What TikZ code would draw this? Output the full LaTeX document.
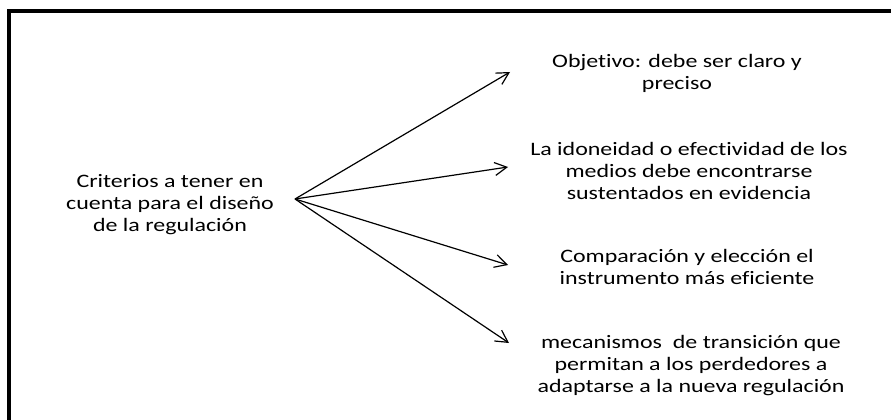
\documentclass[tikz,border=0pt]{standalone}
\usepackage{fontspec}
\setmainfont[FakeStretch=1.26,Ligatures=NoCommon]{Carlito}
\usetikzlibrary{arrows.meta}
\begin{document}
\begin{tikzpicture}[x=1pt,y=-1pt,
  lbl/.style={align=center,inner sep=0pt,font=\fontsize{19}{22}\selectfont},
  conn/.style={line width=1.2pt,-{Straight Barb[length=12pt,width=13pt,line width=1.2pt]}}]
\useasboundingbox (0,0) rectangle (891,420);
\clip (0,0) rectangle (891,420);
\draw[line width=4pt] (9,430) -- (9,11.5) -- (900,11.5);
\node[lbl] (n0) at (170,205) {Criterios a tener en\\cuenta para el diseño\\de la regulación};
\node[lbl] (n1) at (677,73.5) {Objetivo: debe ser claro y\\preciso};
\node[lbl] (n2) at (689,171) {La idoneidad o efectividad de los\\medios debe encontrarse\\sustentados en evidencia};
\node[lbl] (n3) at (687,267) {Comparación y elección el\\instrumento más eficiente};
\node[lbl] (n4) at (691,365.5) {mecanismos\ \ de transición que\\permitan a los perdedores a\\adaptarse a la nueva regulación};
\coordinate (o) at (295,199);
\coordinate (t1) at (510,72);
\coordinate (t2) at (508,167);
\coordinate (t3) at (508,265);
\coordinate (t4) at (509,343);
\draw[conn] (o) -- (t1);
\draw[conn] (o) -- (t2);
\draw[conn] (o) -- (t3);
\draw[conn] (o) -- (t4);
\end{tikzpicture}
\end{document}
